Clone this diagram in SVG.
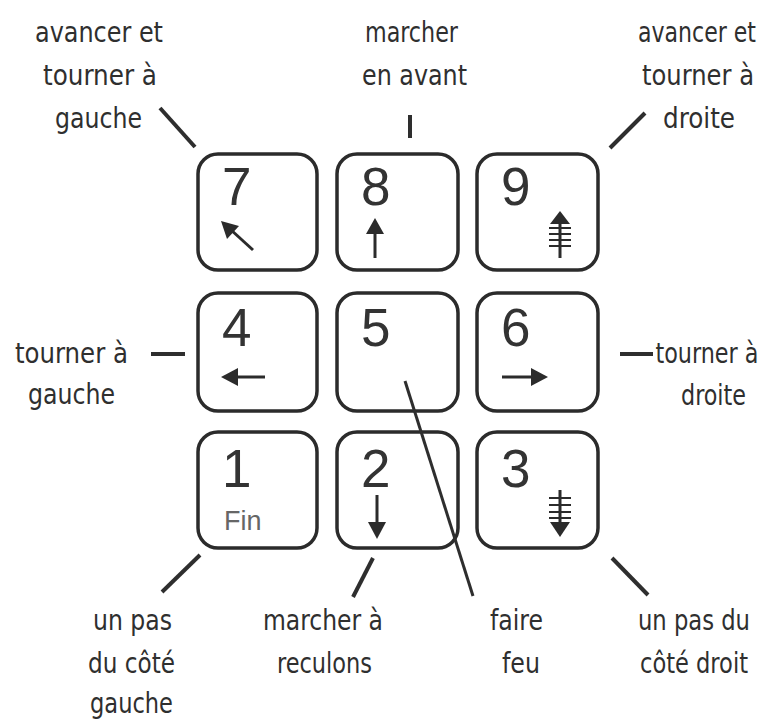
<svg xmlns="http://www.w3.org/2000/svg" width="771" height="726" viewBox="0 0 771 726">
  <style>
    .key { fill: #fff; stroke: #2b2b2b; stroke-width: 3.5; }
    .num { font-family: "Liberation Sans", Arial, sans-serif; font-size: 53px; fill: #333; }
    .fin { font-family: "Liberation Sans", Arial, sans-serif; font-size: 27px; fill: #666; }
    .lbl { font-family: "DejaVu Sans Condensed", "DejaVu Sans", sans-serif; font-stretch: condensed; font-size: 24px; fill: #2f2f2f; text-anchor: middle; }
    .lead { stroke: #2e2e2e; stroke-width: 4; stroke-linecap: butt; fill: none; }
    .shaft { stroke: #2b2b2b; stroke-width: 3; fill: none; }
    .bar { stroke: #2b2b2b; stroke-width: 2; fill: none; }
    .head { fill: #2b2b2b; }
  </style>
  <rect width="771" height="726" fill="#fff"/>

  <!-- leader lines from the captions to the keys -->
  <g id="connectors">
    <line class="lead" x1="160" y1="108" x2="195" y2="147"/>
    <line class="lead" x1="410" y1="115" x2="410" y2="138"/>
    <line class="lead" x1="645" y1="113" x2="610" y2="148"/>
    <line class="lead" x1="151" y1="354" x2="185" y2="354"/>
    <line class="lead" x1="620" y1="354" x2="653" y2="354"/>
    <line class="lead" x1="200" y1="555" x2="162" y2="592"/>
    <line class="lead" x1="373" y1="558" x2="353" y2="597"/>
    <line class="lead" x1="612" y1="558" x2="648" y2="595"/>
  </g>

  <!-- top row -->
  <g id="key7">
    <rect class="key" x="198" y="154" width="119" height="116" rx="20"/>
    <text class="num" x="222" y="205">7</text>
    <line class="shaft" x1="253" y1="250" x2="230" y2="229"/>
    <polygon class="head" points="221,221 239,226 227,239"/>
  </g>
  <g id="key8">
    <rect class="key" x="337" y="154" width="121" height="116" rx="20"/>
    <text class="num" x="361" y="205">8</text>
    <line class="shaft" x1="375" y1="232" x2="375" y2="258"/>
    <polygon class="head" points="375,218 384,234 366,234"/>
  </g>
  <g id="key9">
    <rect class="key" x="477" y="154" width="121" height="116" rx="20"/>
    <text class="num" x="501" y="205">9</text>
    <line class="shaft" x1="560" y1="222" x2="560" y2="258"/>
    <polygon class="head" points="560,211 570,224 550,224"/>
    <line class="bar" x1="549" y1="228" x2="571" y2="228"/>
    <line class="bar" x1="549" y1="234" x2="571" y2="234"/>
    <line class="bar" x1="549" y1="240" x2="571" y2="240"/>
    <line class="bar" x1="549" y1="246" x2="571" y2="246"/>
  </g>

  <!-- middle row -->
  <g id="key4">
    <rect class="key" x="198" y="293" width="119" height="118" rx="20"/>
    <text class="num" x="222" y="346">4</text>
    <line class="shaft" x1="234" y1="377" x2="265" y2="377"/>
    <polygon class="head" points="221,377 238,368 238,386"/>
  </g>
  <g id="key5">
    <rect class="key" x="337" y="293" width="121" height="118" rx="20"/>
    <text class="num" x="361" y="346">5</text>
  </g>
  <g id="key6">
    <rect class="key" x="477" y="293" width="121" height="118" rx="20"/>
    <text class="num" x="501" y="346">6</text>
    <line class="shaft" x1="502" y1="377" x2="535" y2="377"/>
    <polygon class="head" points="548,377 531,368 531,386"/>
  </g>

  <!-- bottom row -->
  <g id="key1">
    <rect class="key" x="198" y="432" width="119" height="116" rx="20"/>
    <text class="num" x="222" y="487">1</text>
    <text class="fin" x="224" y="530">Fin</text>
  </g>
  <g id="key2">
    <rect class="key" x="337" y="432" width="121" height="116" rx="20"/>
    <text class="num" x="361" y="487">2</text>
    <line class="shaft" x1="377" y1="495" x2="377" y2="526"/>
    <polygon class="head" points="377,539 386,522 368,522"/>
  </g>
  <g id="key3">
    <rect class="key" x="477" y="432" width="121" height="116" rx="20"/>
    <text class="num" x="501" y="487">3</text>
    <line class="shaft" x1="560" y1="490" x2="560" y2="526"/>
    <polygon class="head" points="560,537 570,522 550,522"/>
    <line class="bar" x1="549" y1="498" x2="571" y2="498"/>
    <line class="bar" x1="549" y1="505" x2="571" y2="505"/>
    <line class="bar" x1="549" y1="512" x2="571" y2="512"/>
    <line class="bar" x1="549" y1="518" x2="571" y2="518"/>
  </g>

  <!-- fire: long lead from key 5 -->
  <g id="fire-lead">
    <line class="lead" x1="405" y1="381" x2="473" y2="596" style="stroke-width:3"/>
  </g>

  <!-- captions: tall condensed lettering, drawn stretched 1.2x vertically -->
  <g id="captions" transform="scale(1,1.2)">
    <g id="cap-7">
      <text class="lbl" x="99" y="35" textLength="128" lengthAdjust="spacingAndGlyphs">avancer et</text>
      <text class="lbl" x="100" y="70.8" textLength="114" lengthAdjust="spacingAndGlyphs">tourner à</text>
      <text class="lbl" x="98.5" y="106.7" textLength="87" lengthAdjust="spacingAndGlyphs">gauche</text>
    </g>
    <g id="cap-8">
      <text class="lbl" x="411.5" y="35" textLength="93" lengthAdjust="spacingAndGlyphs">marcher</text>
      <text class="lbl" x="414.5" y="70.8" textLength="105" lengthAdjust="spacingAndGlyphs">en avant</text>
    </g>
    <g id="cap-9">
      <text class="lbl" x="697" y="35" textLength="118" lengthAdjust="spacingAndGlyphs">avancer et</text>
      <text class="lbl" x="698" y="70.8" textLength="112" lengthAdjust="spacingAndGlyphs">tourner à</text>
      <text class="lbl" x="699" y="106.7" textLength="72" lengthAdjust="spacingAndGlyphs">droite</text>
    </g>
    <g id="cap-4">
      <text class="lbl" x="71.5" y="302.5" textLength="113" lengthAdjust="spacingAndGlyphs">tourner à</text>
      <text class="lbl" x="71.5" y="336.7" textLength="87" lengthAdjust="spacingAndGlyphs">gauche</text>
    </g>
    <g id="cap-6">
      <text class="lbl" x="707" y="302.5" textLength="103" lengthAdjust="spacingAndGlyphs">tourner à</text>
      <text class="lbl" x="713.5" y="337.5" textLength="65" lengthAdjust="spacingAndGlyphs">droite</text>
    </g>
    <g id="cap-1">
      <text class="lbl" x="132.5" y="525" textLength="79" lengthAdjust="spacingAndGlyphs">un pas</text>
      <text class="lbl" x="131.5" y="560.8" textLength="87" lengthAdjust="spacingAndGlyphs">du côté</text>
      <text class="lbl" x="131.5" y="594.2" textLength="83" lengthAdjust="spacingAndGlyphs">gauche</text>
    </g>
    <g id="cap-2">
      <text class="lbl" x="323" y="525" textLength="120" lengthAdjust="spacingAndGlyphs">marcher à</text>
      <text class="lbl" x="324.5" y="560.8" textLength="95" lengthAdjust="spacingAndGlyphs">reculons</text>
    </g>
    <g id="cap-5">
      <text class="lbl" x="516.5" y="525" textLength="53" lengthAdjust="spacingAndGlyphs">faire</text>
      <text class="lbl" x="521" y="560.8" textLength="38" lengthAdjust="spacingAndGlyphs">feu</text>
    </g>
    <g id="cap-3">
      <text class="lbl" x="694" y="525" textLength="112" lengthAdjust="spacingAndGlyphs">un pas du</text>
      <text class="lbl" x="694" y="560.8" textLength="108" lengthAdjust="spacingAndGlyphs">côté droit</text>
    </g>
  </g>
</svg>
